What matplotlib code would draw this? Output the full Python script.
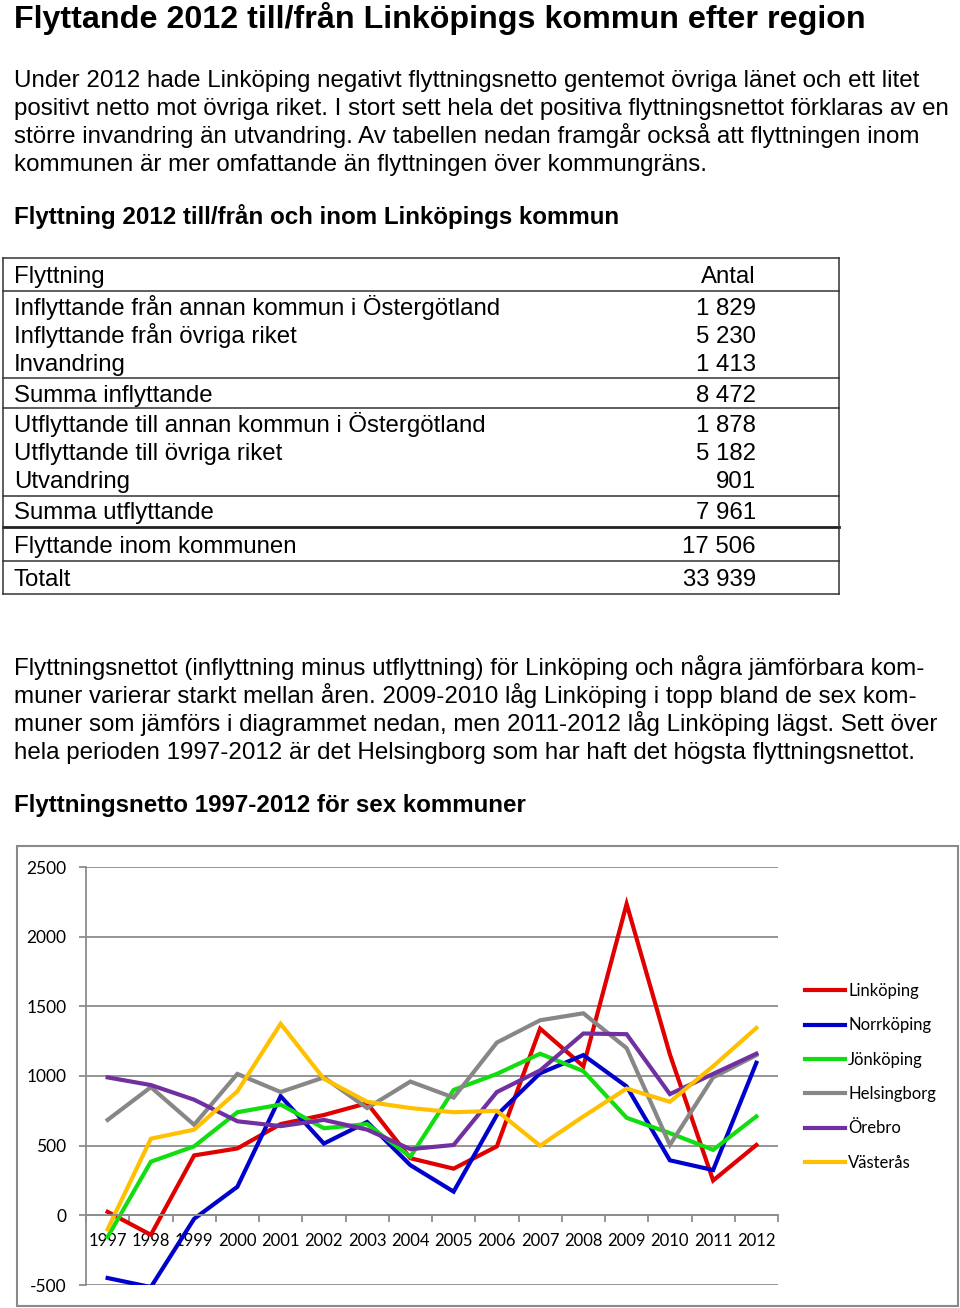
import matplotlib
matplotlib.use("Agg")
from matplotlib import pyplot as plt
from matplotlib.patches import Rectangle

plt.rcParams["axes.unicode_minus"] = False

# --- data ---
title = "Flyttande 2012 till/från Linköpings kommun efter region"
intro = [
    "Under 2012 hade Linköping negativt flyttningsnetto gentemot övriga länet och ett litet",
    "positivt netto mot övriga riket. I stort sett hela det positiva flyttningsnettot förklaras av en",
    "större invandring än utvandring. Av tabellen nedan framgår också att flyttningen inom",
    "kommunen är mer omfattande än flyttningen över kommungräns.",
]
table_title = "Flyttning 2012 till/från och inom Linköpings kommun"
table_head = ["Flyttning", "Antal"]
table_rows = [
    "Inflyttande från annan kommun i Östergötland",
    "Inflyttande från övriga riket",
    "Invandring",
    "Summa inflyttande",
    "Utflyttande till annan kommun i Östergötland",
    "Utflyttande till övriga riket",
    "Utvandring",
    "Summa utflyttande",
    "Flyttande inom kommunen",
    "Totalt",
]
table_values = [1829, 5230, 1413, 8472, 1878, 5182, 901, 7961, 17506, 33939]
text2 = [
    "Flyttningsnettot (inflyttning minus utflyttning) för Linköping och några jämförbara kom-",
    "muner varierar starkt mellan åren. 2009-2010 låg Linköping i topp bland de sex kom-",
    "muner som jämförs i diagrammet nedan, men 2011-2012 låg Linköping lägst. Sett över",
    "hela perioden 1997-2012 är det Helsingborg som har haft det högsta flyttningsnettot.",
]
chart_title = "Flyttningsnetto 1997-2012 för sex kommuner"

years = list(range(1997, 2013))
linkoping = [25, -140, 430, 480, 655, 720, 805, 410, 335, 495, 1340, 1070, 2235, 1155, 250, 505]
norrkoping = [-450, -515, -25, 205, 855, 515, 670, 360, 170, 720, 1020, 1150, 925, 395, 325, 1095]
jonkoping = [-155, 385, 495, 740, 795, 625, 655, 420, 900, 1015, 1160, 1035, 700, 590, 470, 710]
helsingborg = [685, 920, 650, 1015, 885, 990, 770, 960, 845, 1240, 1400, 1450, 1200, 505, 990, 1150]
orebro = [990, 935, 830, 675, 640, 685, 615, 475, 505, 885, 1040, 1305, 1300, 870, 1015, 1160]
vasteras = [-100, 550, 615, 890, 1375, 980, 815, 770, 740, 750, 500, 710, 910, 815, 1070, 1345]

series = [
    ("Linköping", linkoping, "#e00000"),
    ("Norrköping", norrkoping, "#0000cc"),
    ("Jönköping", jonkoping, "#11dd11"),
    ("Helsingborg", helsingborg, "#878787"),
    ("Örebro", orebro, "#7030a0"),
    ("Västerås", vasteras, "#ffc000"),
]

W, H = 960, 1308
fig = plt.figure(figsize=(W / 100, H / 100), dpi=100)

# page layer in pixel coordinates
bg = fig.add_axes([0, 0, 1, 1], zorder=0)
bg.set_xlim(0, W)
bg.set_ylim(H, 0)
bg.axis("off")

body = dict(family=["Liberation Sans", "DejaVu Sans"], color="black")
fs = 17.4

bg.text(14, 28, title, fontsize=23.2, fontweight="bold", va="baseline", **body)
for i, line in enumerate(intro):
    bg.text(14, 87 + 28 * i, line, fontsize=fs, va="baseline", **body)
bg.text(14, 224, table_title, fontsize=fs, fontweight="bold", va="baseline", **body)

# table
row_base = [315, 343, 371, 402, 432, 460, 488, 519, 553, 586]
bg.text(14, 283, table_head[0], fontsize=17.3, va="baseline", **body)
bg.text(756, 283, table_head[1], fontsize=17.3, va="baseline", ha="right", **body)
for lab, val, yb in zip(table_rows, table_values, row_base):
    bg.text(14, yb, lab, fontsize=17.3, va="baseline", **body)
    bg.text(756, yb, f"{val:,}".replace(",", " "), fontsize=17.3, va="baseline", ha="right", **body)
for yl in [258, 291, 378, 408, 496, 561, 594]:
    bg.plot([3, 839], [yl, yl], color="#333333", lw=1.1)
bg.plot([3, 839], [527, 527], color="#222222", lw=2)
bg.plot([3, 3], [258, 594], color="#333333", lw=1.1)
bg.plot([839, 839], [258, 594], color="#333333", lw=1.1)

for i, line in enumerate(text2):
    bg.text(14, 675 + 28 * i, line, fontsize=fs, va="baseline", **body)
bg.text(14, 812, chart_title, fontsize=fs, fontweight="bold", va="baseline", **body)

# chart frame
bg.add_patch(Rectangle((17, 846), 941, 460, fill=False, edgecolor="#8a8a8a", lw=1.5))

# chart
cfont = ["Lato", "DejaVu Sans"]
ax = fig.add_axes([86 / W, (H - 1285) / H, (778 - 86) / W, (1285 - 867) / H], zorder=1)
ax.patch.set_alpha(0)
x = list(range(len(years)))
for name, vals, col in series:
    ax.plot(x, vals, color=col, lw=3, label=name, solid_joinstyle="miter")

ax.set_xlim(-0.5, len(years) - 0.5)
ax.set_ylim(-500, 2500)
ax.set_yticks(range(-500, 2501, 500))
ax.yaxis.grid(True, color="#8c8c8c", lw=1.3)
ax.set_axisbelow(True)
for s in ["top", "right"]:
    ax.spines[s].set_visible(False)
ax.spines["left"].set_color("#8c8c8c")
ax.spines["left"].set_linewidth(1.3)
ax.spines["bottom"].set_position(("data", 0))
ax.spines["bottom"].set_color("#8c8c8c")
ax.spines["bottom"].set_linewidth(1.3)

ax.set_xticks(x)
ax.set_xticklabels([str(y) for y in years], family=cfont, fontsize=12)
ax.set_xticks([i - 0.5 for i in range(len(years) + 1)], minor=True)
ax.tick_params(axis="x", which="major", length=0, pad=13)
ax.tick_params(axis="x", which="minor", length=5, width=1.3, color="#8c8c8c", direction="out")
ax.tick_params(axis="y", length=5, width=1.3, color="#8c8c8c", pad=9)
for t in ax.get_yticklabels():
    t.set_family(cfont)
    t.set_fontsize(12.5)

leg = ax.legend(loc="upper left", bbox_to_anchor=(805 / W, 1 - 983 / H),
                bbox_transform=fig.transFigure, frameon=False,
                prop={"family": cfont, "size": 12}, handlelength=2.4,
                handletextpad=0.18, labelspacing=1.1, borderaxespad=0, borderpad=0)

fig.savefig("out.png", dpi=100)
